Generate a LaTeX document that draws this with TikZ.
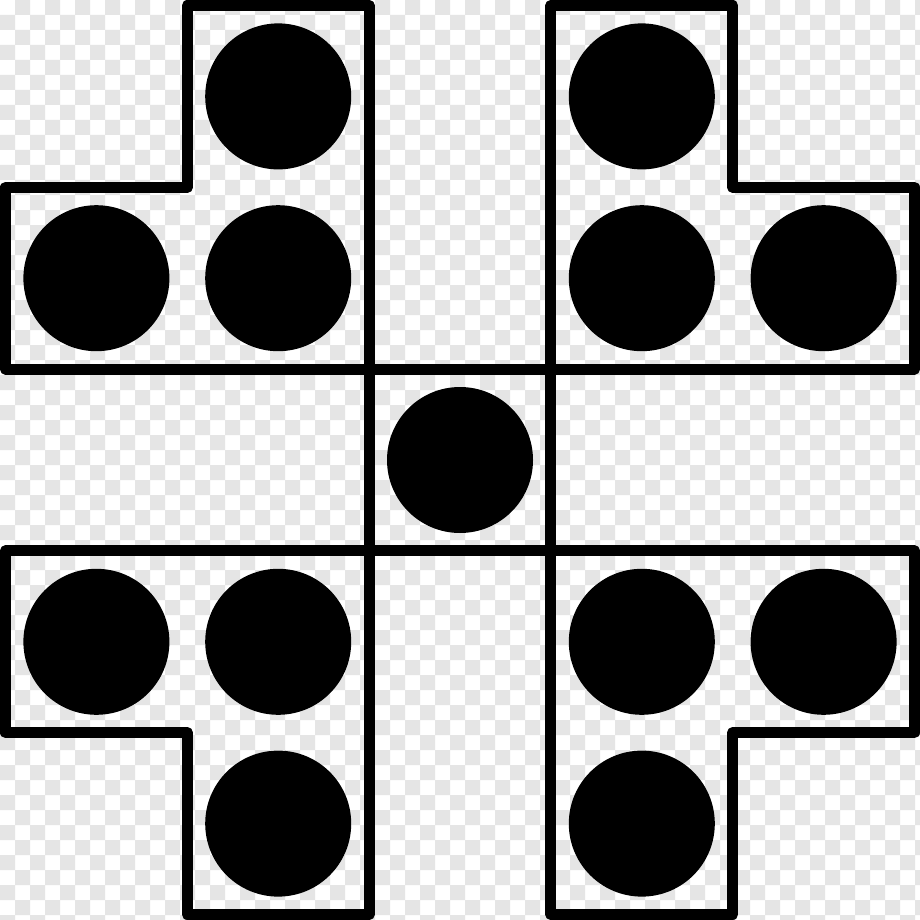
\documentclass[tikz,border=0pt]{standalone}
\definecolor{checkgrey}{HTML}{E5E5E5}
\tikzset{
  outline/.style={draw=black, line width=11pt, line join=round},
  dot/.style={fill=black},
}
\begin{document}
\begin{tikzpicture}[x=1pt,y=-1pt]
\useasboundingbox (0,0) rectangle (920,920);
\fill[white] (0,0) rectangle (920,920);
\begin{scope}
\clip (0,0) rectangle (920,920);
\fill[checkgrey]
  \foreach \j in {0,30,...,900} { \foreach \i in {15,45,...,915} { (\i,\j) rectangle ++(15,15) } }
  \foreach \j in {15,45,...,915} { \foreach \i in {0,30,...,900} { (\i,\j) rectangle ++(15,15) } };
\end{scope}
% grid line positions: 5.5, 187.3, 369.1, 550.9, 732.7, 914.5
% top-left piece
\draw[outline] (187.3,5.5) -- (369.1,5.5) -- (369.1,369.1) -- (5.5,369.1) -- (5.5,187.3) -- (187.3,187.3) -- cycle;
% top-right piece
\draw[outline] (550.9,5.5) -- (732.7,5.5) -- (732.7,187.3) -- (914.5,187.3) -- (914.5,369.1) -- (550.9,369.1) -- cycle;
% centre square
\draw[outline] (369.1,369.1) rectangle (550.9,550.9);
% bottom-left piece
\draw[outline] (5.5,550.9) -- (369.1,550.9) -- (369.1,914.5) -- (187.3,914.5) -- (187.3,732.7) -- (5.5,732.7) -- cycle;
% bottom-right piece
\draw[outline] (550.9,550.9) -- (914.5,550.9) -- (914.5,732.7) -- (732.7,732.7) -- (732.7,914.5) -- (550.9,914.5) -- cycle;
% dots
\foreach \x/\y in {278.2/96.4, 96.4/278.2, 278.2/278.2,
                   641.8/96.4, 641.8/278.2, 823.6/278.2,
                   460/460,
                   96.4/641.8, 278.2/641.8, 278.2/823.6,
                   641.8/641.8, 823.6/641.8, 641.8/823.6}
  \fill[dot] (\x,\y) circle (73);
\end{tikzpicture}
\end{document}
